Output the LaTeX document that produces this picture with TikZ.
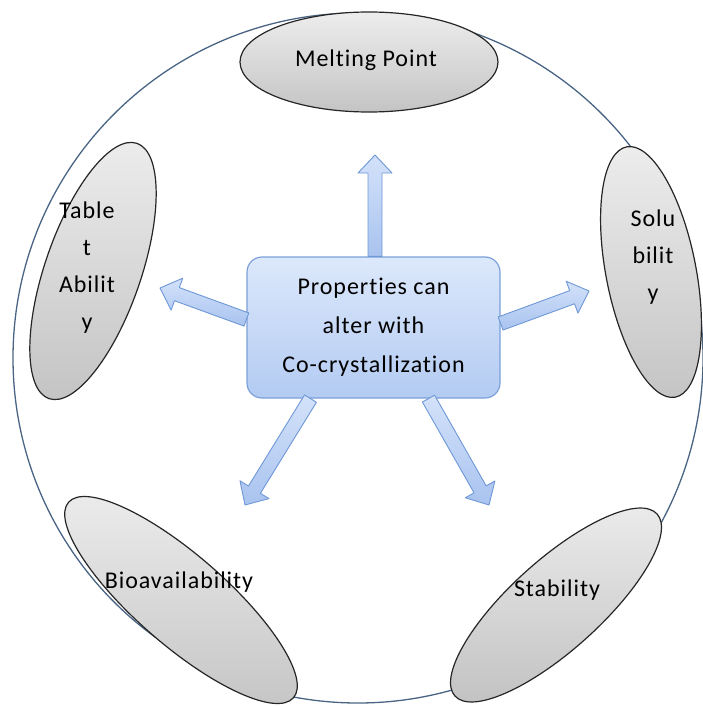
\documentclass[tikz,border=0pt]{standalone}
\usepackage{fontspec}
\setmainfont{Carlito}[LetterSpace=4,Ligatures=NoCommon]
\usepackage{tikz}
\usetikzlibrary{calc,shapes.geometric}
\definecolor{hubtop}{HTML}{DCE8FB}
\definecolor{hubbot}{HTML}{B3CBF2}
\definecolor{hubline}{HTML}{7BA0DA}
\definecolor{arrtop}{HTML}{D3E2FA}
\definecolor{arrbot}{HTML}{A9C3EF}
\definecolor{arrline}{HTML}{6F98D6}
\definecolor{propa}{HTML}{EDEDED}
\definecolor{propb}{HTML}{C4C4C4}
\definecolor{rimline}{HTML}{4A6584}
\newcommand{\fatarrow}[2]{%
  \path[fatarr] ($(#1)!7pt!90:(#2)$) -- ($(#2)!18pt!(#1)!7pt!90:(#2)$)
    -- ($(#2)!18pt!(#1)!17pt!90:(#2)$) -- (#2)
    -- ($(#2)!18pt!(#1)!17pt!-90:(#2)$) -- ($(#2)!18pt!(#1)!7pt!-90:(#2)$)
    -- ($(#1)!7pt!-90:(#2)$) -- cycle;}

\begin{document}
\begin{tikzpicture}[x=1pt,y=-1pt,
  rim/.style={draw=rimline,line width=1.3pt,circle,minimum size=690pt,inner sep=0pt},
  prop/.style={ellipse,draw=black!85,line width=1.2pt,top color=propa,bottom color=propb,inner sep=0pt},
  lbl/.style={align=center,font=\fontsize{24}{37}\selectfont},
  hub/.style={draw=hubline,line width=1.2pt,rounded corners=15pt,top color=hubtop,bottom color=hubbot,
    minimum width=253pt,minimum height=141pt,align=center,font=\fontsize{24}{39}\selectfont},
  fatarr/.style={draw=arrline,line width=0.9pt,line join=round,top color=arrtop,bottom color=arrbot}]
\useasboundingbox (0,0) rectangle (702,706);
\node[rim] (rim) at (358,358) {};
\node[prop,minimum width=258pt,minimum height=100pt] (melt) at (369,62) {};
\node[prop,minimum width=255pt,minimum height=90pt,rotate=101] (sol) at (651,272) {};
\node[prop,minimum width=270pt,minimum height=96pt,rotate=71] (tab) at (93,271) {};
\node[prop,minimum width=298pt,minimum height=90pt,rotate=-41] (bio) at (181,600) {};
\node[prop,minimum width=272pt,minimum height=90pt,rotate=42] (stab) at (556,605) {};
\node[lbl] (melttxt) at (366,60) {Melting Point};
\node[lbl] (soltxt) at (653,257) {Solu\\bilit\\y};
\node[lbl] (tabtxt) at (87,268) {Table\\t\\Abilit\\y};
\node[lbl] (biotxt) at (179,582) {Bioavailability};
\node[lbl] (stabtxt) at (557,590) {Stability};
\node[hub] (hub) at (373.5,327.5) {Properties can\\alter with\\Co-crystallization};
\coordinate (toMelt) at (375,155);
\coordinate (toTab) at (160,288);
\coordinate (toSol) at (589,291);
\coordinate (toBio) at (245,505);
\coordinate (toStab) at (489,505);
\coordinate (fromMelt) at ([xshift=1.5pt]hub.north);
\coordinate (fromTab) at ([yshift=8pt]hub.west);
\coordinate (fromSol) at ([yshift=4pt]hub.east);
\coordinate (fromBio) at ([xshift=-63pt]hub.south);
\coordinate (fromStab) at ([xshift=55pt]hub.south);
\fatarrow{fromMelt}{toMelt}
\fatarrow{fromTab}{toTab}
\fatarrow{fromSol}{toSol}
\fatarrow{fromBio}{toBio}
\fatarrow{fromStab}{toStab}
\end{tikzpicture}
\end{document}
